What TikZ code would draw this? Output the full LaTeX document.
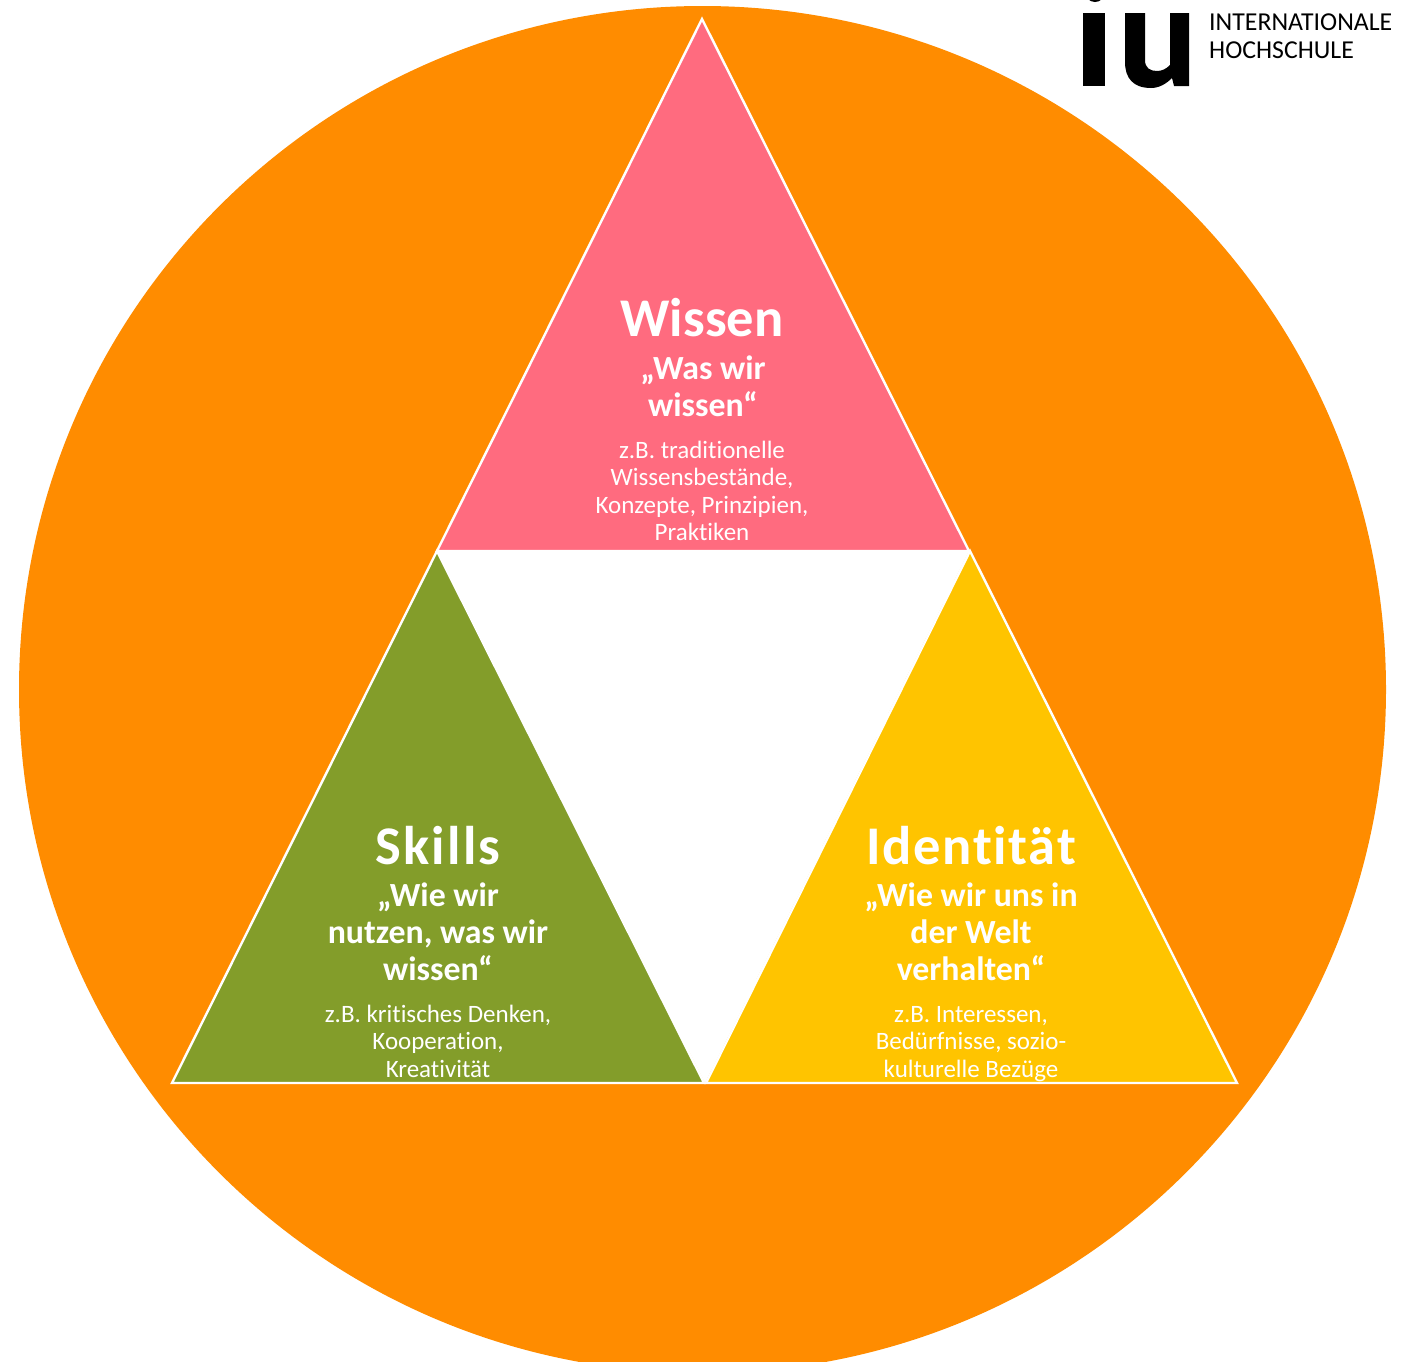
\documentclass[tikz,border=0pt]{standalone}
\usepackage{fontspec}
\setmainfont{Carlito}[Ligatures=NoCommon]
\definecolor{iuorange}{HTML}{FF8C00}
\definecolor{iupink}{HTML}{FF6B7F}
\definecolor{iugreen}{HTML}{839D2A}
\definecolor{iuyellow}{HTML}{FFC400}
\tikzset{
  tri/.style={draw=white,line width=2.4pt,line join=miter},
  titletext/.style={text=white,inner sep=0pt,anchor=base,font=\bfseries\fontsize{54.5}{60}\selectfont},
  subtext/.style={text=white,inner sep=0pt,align=center,anchor=center,font=\bfseries\fontsize{33.8}{37}\selectfont},
  detailtext/.style={text=white,inner sep=0pt,align=center,anchor=center,font=\fontsize{25}{27.5}\selectfont},
  logotext/.style={text=black,inner sep=0pt,align=left,anchor=west,font=\fontsize{25.8}{27.5}\selectfont}
}
\begin{document}
\begin{tikzpicture}[x=1pt,y=-1pt]
\useasboundingbox (0,0) rectangle (1406,1361);
\clip (0,0) rectangle (1406,1361);
\fill[iuorange] (702.5,689.5) circle[radius=683.5];
\fill[white] (437,551) -- (969,551) -- (705,1083) -- cycle;
\draw[tri,fill=iupink] (702,19) -- (969,551) -- (437,551) -- cycle;
\draw[tri,fill=iugreen] (437,551) -- (704,1083) -- (172,1083) -- cycle;
\draw[tri,fill=iuyellow] (970,551) -- (1237,1083) -- (706,1083) -- cycle;
% logo
\fill[black] (1083,13) rectangle (1105,86);
\fill[black] (1095,-8) circle[radius=10];
\fill[black] (1125,13) -- (1145,13) -- (1145,60) .. controls (1145,68) and (1150,71) .. (1157,71) .. controls (1162,71) and (1166,69) .. (1170,65) -- (1170,13) -- (1189,13) -- (1189,86) -- (1174,86) -- (1172,78) .. controls (1166,84) and (1159,88) .. (1151,88) .. controls (1133,88) and (1125,78) .. (1125,62) -- cycle;
\node[logotext] (logo) at (1209,36) {INTERNATIONALE\\HOCHSCHULE};
% Wissen
\node[titletext] (wt) at (702,336) {Wissen};
\node[subtext] (ws) at (703,386) {„Was wir\\wissen“};
\node[detailtext] (wd) at (702,491) {z.B. traditionelle\\Wissensbestände,\\Konzepte, Prinzipien,\\Praktiken};
% Skills
\node[titletext] (st) at (438,864) {\addfontfeature{LetterSpace=4}Skills};
\node[subtext] (ss) at (438,932) {„Wie wir\\nutzen, was wir\\wissen“};
\node[detailtext] (sd) at (438,1041) {z.B. kritisches Denken,\\Kooperation,\\Kreativität};
% Identitaet
\node[titletext] (it) at (971,864) {\addfontfeature{LetterSpace=3.2}Identität};
\node[subtext] (is) at (971,932) {„Wie wir uns in\\der Welt\\verhalten“};
\node[detailtext] (id) at (971,1044) {z.B. Interessen,\\Bedürfnisse, sozio-\\kulturelle Bezüge};
\end{tikzpicture}
\end{document}
